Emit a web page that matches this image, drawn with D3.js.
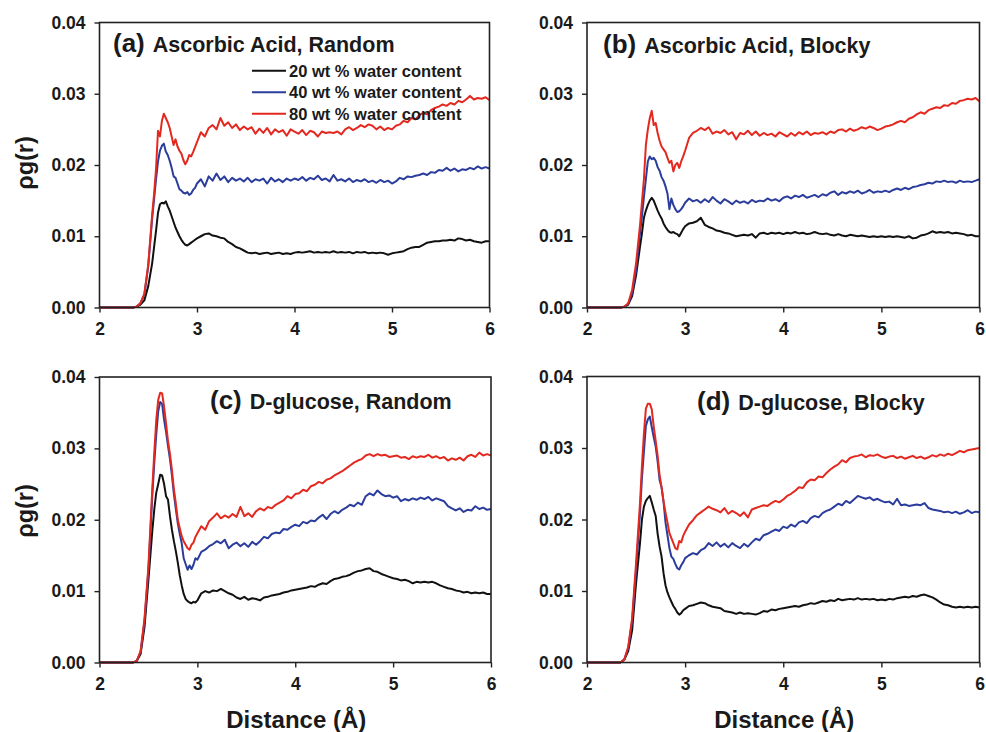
<!DOCTYPE html>
<html>
<head>
<meta charset="utf-8">
<script src="https://cdn.jsdelivr.net/npm/d3@7"></script>
<style>
  body { margin: 0; background: #fff; }
  svg text { font-family: "Liberation Sans", Arial, sans-serif; font-weight: bold; fill: #1a1a1a; }
</style>
</head>
<body>
<svg id="chart" width="986" height="732"></svg>
<script>
// Sampled distances r (Å), shared by every curve
const distance = [
  2.00, 2.34, 2.38, 2.42, 2.46, 2.50, 2.54, 2.56, 2.58, 2.60,
  2.62, 2.64, 2.66, 2.68, 2.70, 2.72, 2.74, 2.76, 2.78, 2.80,
  2.82, 2.84, 2.86, 2.88, 2.90, 2.92, 2.94, 2.96, 2.98, 3.00,
  3.04, 3.08, 3.12, 3.16, 3.20, 3.24, 3.28, 3.32, 3.36, 3.40, 3.44, 3.48, 3.52, 3.56, 3.60, 3.64, 3.68, 3.72, 3.76, 3.80, 3.84, 3.88, 3.92, 3.96, 4.00,
  4.04, 4.08, 4.12, 4.16, 4.20, 4.24, 4.28, 4.32, 4.36, 4.40, 4.44, 4.48, 4.52, 4.56, 4.60, 4.64, 4.68, 4.72, 4.76, 4.80, 4.84, 4.88, 4.92, 4.96, 5.00,
  5.04, 5.08, 5.12, 5.16, 5.20, 5.24, 5.28, 5.32, 5.36, 5.40, 5.44, 5.48, 5.52, 5.56, 5.60, 5.64, 5.68, 5.72, 5.76, 5.80, 5.84, 5.88, 5.92, 5.96, 6.00
];

// (a) Ascorbic acid, random
const ascorbicRandom20 = [
  0, 0, 0.0001, 0.0004, 0.0010, 0.0030, 0.0062, 0.0085, 0.0108, 0.0133,
  0.0145, 0.0147, 0.0146, 0.0149, 0.0142, 0.0136, 0.0128, 0.0120, 0.0112, 0.0106,
  0.0100, 0.0095, 0.0091, 0.0088, 0.0087, 0.0089, 0.0091, 0.0093, 0.0095, 0.0097,
  0.0100, 0.0103, 0.0104, 0.0101, 0.0100, 0.0098, 0.0097, 0.0092, 0.0089, 0.0085, 0.0083, 0.0080, 0.0077, 0.0076, 0.0077, 0.0075, 0.0076, 0.0077, 0.0075, 0.0076, 0.0077, 0.0075, 0.0076, 0.0075, 0.0077,
  0.0078, 0.0077, 0.0078, 0.0079, 0.0077, 0.0078, 0.0077, 0.0078, 0.0077, 0.0079, 0.0077, 0.0078, 0.0077, 0.0078, 0.0076, 0.0078, 0.0077, 0.0078, 0.0076, 0.0077, 0.0076, 0.0077, 0.0076, 0.0074, 0.0076,
  0.0077, 0.0078, 0.0079, 0.0082, 0.0084, 0.0085, 0.0085, 0.0088, 0.0091, 0.0092, 0.0093, 0.0093, 0.0094, 0.0094, 0.0095, 0.0094, 0.0097, 0.0096, 0.0094, 0.0095, 0.0093, 0.0092, 0.0091, 0.0093, 0.0093
];
const ascorbicRandom40 = [
  0, 0, 0.0001, 0.0006, 0.0018, 0.0058, 0.0125, 0.0152, 0.0180, 0.0205,
  0.0220, 0.0227, 0.0230, 0.0219, 0.0214, 0.0206, 0.0196, 0.0184, 0.0182, 0.0174,
  0.0166, 0.0164, 0.0161, 0.0160, 0.0162, 0.0158, 0.0160, 0.0165, 0.0168, 0.0174,
  0.0180, 0.0170, 0.0184, 0.0178, 0.0188, 0.0179, 0.0184, 0.0176, 0.0182, 0.0178, 0.0181, 0.0177, 0.0182, 0.0176, 0.0180, 0.0178, 0.0181, 0.0174, 0.0182, 0.0177, 0.0180, 0.0176, 0.0181, 0.0178, 0.0181,
  0.0179, 0.0183, 0.0178, 0.0182, 0.0180, 0.0185, 0.0179, 0.0181, 0.0177, 0.0186, 0.0178, 0.0180, 0.0177, 0.0181, 0.0176, 0.0179, 0.0177, 0.0180, 0.0176, 0.0178, 0.0175, 0.0179, 0.0176, 0.0178, 0.0174,
  0.0177, 0.0182, 0.0180, 0.0184, 0.0183, 0.0185, 0.0186, 0.0188, 0.0186, 0.0190, 0.0189, 0.0193, 0.0192, 0.0196, 0.0192, 0.0195, 0.0191, 0.0194, 0.0193, 0.0196, 0.0194, 0.0198, 0.0195, 0.0197, 0.0195
];
const ascorbicRandom80 = [
  0, 0, 0.0001, 0.0006, 0.0019, 0.0060, 0.0130, 0.0160, 0.0195, 0.0248,
  0.0240, 0.0262, 0.0272, 0.0266, 0.0260, 0.0252, 0.0240, 0.0228, 0.0236, 0.0226,
  0.0220, 0.0216, 0.0207, 0.0201, 0.0206, 0.0214, 0.0212, 0.0218, 0.0225, 0.0232,
  0.0246, 0.0240, 0.0252, 0.0256, 0.0250, 0.0266, 0.0255, 0.0260, 0.0252, 0.0257, 0.0249, 0.0254, 0.0250, 0.0253, 0.0244, 0.0251, 0.0245, 0.0252, 0.0243, 0.0250, 0.0246, 0.0249, 0.0241, 0.0250, 0.0247,
  0.0244, 0.0249, 0.0242, 0.0248, 0.0246, 0.0240, 0.0247, 0.0245, 0.0246, 0.0245, 0.0247, 0.0243, 0.0250, 0.0253, 0.0249, 0.0252, 0.0256, 0.0253, 0.0257, 0.0255, 0.0250, 0.0254, 0.0249, 0.0252, 0.0250,
  0.0255, 0.0257, 0.0262, 0.0260, 0.0266, 0.0264, 0.0270, 0.0273, 0.0271, 0.0277, 0.0280, 0.0282, 0.0285, 0.0283, 0.0287, 0.0285, 0.0290, 0.0288, 0.0292, 0.0297, 0.0292, 0.0294, 0.0293, 0.0295, 0.0291
];

// (b) Ascorbic acid, blocky
const ascorbicBlocky20 = [
  0, 0, 0.0001, 0.0004, 0.0016, 0.0045, 0.0085, 0.0104, 0.0126, 0.0136,
  0.0144, 0.0150, 0.0154, 0.0150, 0.0143, 0.0136, 0.0130, 0.0125, 0.0118, 0.0113,
  0.0109, 0.0106, 0.0105, 0.0106, 0.0104, 0.0103, 0.0100, 0.0105, 0.0110, 0.0114,
  0.0118, 0.0119, 0.0121, 0.0126, 0.0116, 0.0113, 0.0111, 0.0108, 0.0107, 0.0105, 0.0104, 0.0102, 0.0100, 0.0101, 0.0102, 0.0101, 0.0103, 0.0098, 0.0104, 0.0105, 0.0103, 0.0105, 0.0104, 0.0105, 0.0103,
  0.0105, 0.0104, 0.0106, 0.0104, 0.0105, 0.0103, 0.0104, 0.0106, 0.0104, 0.0103, 0.0104, 0.0102, 0.0101, 0.0103, 0.0101, 0.0100, 0.0102, 0.0101, 0.0100, 0.0101, 0.0100, 0.0099, 0.0100, 0.0099, 0.0100,
  0.0099, 0.0100, 0.0099, 0.0100, 0.0099, 0.0098, 0.0100, 0.0097, 0.0098, 0.0101, 0.0102, 0.0104, 0.0107, 0.0105, 0.0106, 0.0105, 0.0106, 0.0104, 0.0105, 0.0104, 0.0103, 0.0101, 0.0102, 0.0100, 0.0100
];
const ascorbicBlocky40 = [
  0, 0, 0.0001, 0.0005, 0.0020, 0.0052, 0.0104, 0.0128, 0.0155, 0.0180,
  0.0205, 0.0212, 0.0208, 0.0210, 0.0206, 0.0197, 0.0192, 0.0183, 0.0178, 0.0170,
  0.0160, 0.0138, 0.0153, 0.0144, 0.0138, 0.0134, 0.0135, 0.0138, 0.0142, 0.0147,
  0.0153, 0.0149, 0.0151, 0.0147, 0.0152, 0.0148, 0.0155, 0.0150, 0.0146, 0.0152, 0.0149, 0.0145, 0.0150, 0.0147, 0.0149, 0.0146, 0.0151, 0.0148, 0.0150, 0.0149, 0.0153, 0.0150, 0.0152, 0.0149, 0.0154,
  0.0156, 0.0153, 0.0157, 0.0155, 0.0158, 0.0154, 0.0156, 0.0158, 0.0155, 0.0159, 0.0157, 0.0161, 0.0163, 0.0158, 0.0162, 0.0160, 0.0163, 0.0161, 0.0164, 0.0160, 0.0162, 0.0165, 0.0161, 0.0163, 0.0162,
  0.0164, 0.0162, 0.0165, 0.0167, 0.0165, 0.0168, 0.0166, 0.0169, 0.0170, 0.0172, 0.0173, 0.0175, 0.0174, 0.0177, 0.0176, 0.0178, 0.0176, 0.0177, 0.0175, 0.0178, 0.0176, 0.0177, 0.0176, 0.0178, 0.0180
];
const ascorbicBlocky80 = [
  0, 0, 0.0001, 0.0006, 0.0025, 0.0062, 0.0115, 0.0148, 0.0180, 0.0228,
  0.0250, 0.0266, 0.0276, 0.0256, 0.0259, 0.0245, 0.0234, 0.0226, 0.0222, 0.0218,
  0.0210, 0.0203, 0.0206, 0.0191, 0.0200, 0.0203, 0.0196, 0.0205, 0.0212, 0.0220,
  0.0238, 0.0245, 0.0248, 0.0252, 0.0249, 0.0253, 0.0244, 0.0247, 0.0245, 0.0249, 0.0243, 0.0246, 0.0236, 0.0245, 0.0243, 0.0248, 0.0242, 0.0247, 0.0241, 0.0245, 0.0242, 0.0244, 0.0240, 0.0246, 0.0243,
  0.0240, 0.0245, 0.0241, 0.0246, 0.0243, 0.0247, 0.0242, 0.0245, 0.0244, 0.0246, 0.0243, 0.0247, 0.0245, 0.0249, 0.0250, 0.0247, 0.0251, 0.0248, 0.0250, 0.0253, 0.0251, 0.0254, 0.0252, 0.0249, 0.0251,
  0.0254, 0.0255, 0.0257, 0.0260, 0.0262, 0.0260, 0.0265, 0.0267, 0.0271, 0.0274, 0.0272, 0.0277, 0.0279, 0.0281, 0.0280, 0.0284, 0.0283, 0.0287, 0.0286, 0.0290, 0.0291, 0.0293, 0.0292, 0.0294, 0.0289
];

// (c) D-glucose, random
const glucoseRandom20 = [
  0, 0, 0.0002, 0.0012, 0.0050, 0.0116, 0.0185, 0.0215, 0.0238, 0.0250,
  0.0263, 0.0262, 0.0250, 0.0233, 0.0228, 0.0205, 0.0186, 0.0170, 0.0156, 0.0140,
  0.0122, 0.0108, 0.0096, 0.0089, 0.0086, 0.0084, 0.0083, 0.0085, 0.0084, 0.0087,
  0.0097, 0.0100, 0.0098, 0.0101, 0.0100, 0.0103, 0.0100, 0.0097, 0.0095, 0.0091, 0.0089, 0.0092, 0.0088, 0.0090, 0.0089, 0.0087, 0.0091, 0.0092, 0.0094, 0.0095, 0.0096, 0.0098, 0.0099, 0.0101, 0.0102,
  0.0103, 0.0104, 0.0105, 0.0107, 0.0106, 0.0109, 0.0111, 0.0110, 0.0114, 0.0117, 0.0118, 0.0120, 0.0121, 0.0123, 0.0126, 0.0128, 0.0129, 0.0131, 0.0132, 0.0128, 0.0127, 0.0124, 0.0122, 0.0120, 0.0118,
  0.0117, 0.0115, 0.0116, 0.0114, 0.0111, 0.0113, 0.0112, 0.0113, 0.0112, 0.0113, 0.0111, 0.0108, 0.0106, 0.0104, 0.0103, 0.0101, 0.0100, 0.0098, 0.0099, 0.0097, 0.0098, 0.0097, 0.0098, 0.0096, 0.0096
];
const glucoseRandom40 = [
  0, 0, 0.0002, 0.0015, 0.0058, 0.0130, 0.0235, 0.0280, 0.0320, 0.0352,
  0.0365, 0.0362, 0.0340, 0.0323, 0.0303, 0.0285, 0.0262, 0.0236, 0.0215, 0.0195,
  0.0180, 0.0167, 0.0146, 0.0138, 0.0130, 0.0136, 0.0131, 0.0137, 0.0146, 0.0144,
  0.0155, 0.0158, 0.0163, 0.0166, 0.0170, 0.0167, 0.0172, 0.0160, 0.0165, 0.0168, 0.0163, 0.0167, 0.0162, 0.0169, 0.0165, 0.0170, 0.0176, 0.0174, 0.0180, 0.0182, 0.0181, 0.0187, 0.0186, 0.0190, 0.0193,
  0.0191, 0.0197, 0.0195, 0.0199, 0.0198, 0.0203, 0.0207, 0.0201, 0.0208, 0.0212, 0.0209, 0.0214, 0.0217, 0.0221, 0.0219, 0.0224, 0.0221, 0.0233, 0.0237, 0.0234, 0.0241, 0.0236, 0.0233, 0.0234, 0.0231,
  0.0233, 0.0226, 0.0229, 0.0227, 0.0230, 0.0228, 0.0231, 0.0229, 0.0232, 0.0227, 0.0230, 0.0228, 0.0226, 0.0219, 0.0216, 0.0213, 0.0216, 0.0211, 0.0214, 0.0213, 0.0219, 0.0215, 0.0217, 0.0214, 0.0215
];
const glucoseRandom80 = [
  0, 0, 0.0002, 0.0016, 0.0062, 0.0135, 0.0245, 0.0295, 0.0340, 0.0368,
  0.0378, 0.0377, 0.0358, 0.0335, 0.0310, 0.0292, 0.0270, 0.0243, 0.0223, 0.0200,
  0.0188, 0.0177, 0.0170, 0.0165, 0.0160, 0.0158, 0.0165, 0.0168, 0.0176, 0.0181,
  0.0191, 0.0186, 0.0198, 0.0203, 0.0209, 0.0202, 0.0206, 0.0203, 0.0208, 0.0204, 0.0218, 0.0205, 0.0209, 0.0204, 0.0212, 0.0216, 0.0213, 0.0218, 0.0216, 0.0221, 0.0224, 0.0227, 0.0233, 0.0230, 0.0236,
  0.0237, 0.0242, 0.0240, 0.0247, 0.0249, 0.0253, 0.0251, 0.0256, 0.0258, 0.0262, 0.0265, 0.0268, 0.0272, 0.0276, 0.0280, 0.0283, 0.0285, 0.0290, 0.0292, 0.0289, 0.0292, 0.0290, 0.0291, 0.0288, 0.0289,
  0.0290, 0.0287, 0.0288, 0.0285, 0.0289, 0.0287, 0.0289, 0.0288, 0.0291, 0.0287, 0.0289, 0.0286, 0.0288, 0.0283, 0.0286, 0.0284, 0.0287, 0.0283, 0.0289, 0.0291, 0.0288, 0.0294, 0.0290, 0.0292, 0.0290
];

// (d) D-glucose, blocky
const glucoseBlocky20 = [
  0, 0, 0.0004, 0.0016, 0.0045, 0.0111, 0.0167, 0.0200, 0.0218, 0.0226,
  0.0230, 0.0233, 0.0224, 0.0214, 0.0205, 0.0180, 0.0162, 0.0148, 0.0125, 0.0108,
  0.0098, 0.0091, 0.0085, 0.0079, 0.0075, 0.0070, 0.0067, 0.0069, 0.0073, 0.0075,
  0.0079, 0.0080, 0.0082, 0.0084, 0.0083, 0.0080, 0.0078, 0.0077, 0.0076, 0.0072, 0.0071, 0.0070, 0.0068, 0.0070, 0.0068, 0.0069, 0.0068, 0.0067, 0.0069, 0.0072, 0.0071, 0.0074, 0.0073, 0.0075, 0.0076,
  0.0077, 0.0078, 0.0079, 0.0078, 0.0080, 0.0081, 0.0083, 0.0082, 0.0084, 0.0086, 0.0085, 0.0087, 0.0086, 0.0089, 0.0087, 0.0088, 0.0089, 0.0088, 0.0090, 0.0088, 0.0089, 0.0088, 0.0089, 0.0087, 0.0088,
  0.0087, 0.0089, 0.0088, 0.0090, 0.0091, 0.0092, 0.0091, 0.0093, 0.0092, 0.0094, 0.0095, 0.0093, 0.0091, 0.0088, 0.0084, 0.0081, 0.0080, 0.0078, 0.0077, 0.0078, 0.0077, 0.0078, 0.0077, 0.0078, 0.0077
];
const glucoseBlocky40 = [
  0, 0, 0.0004, 0.0020, 0.0058, 0.0130, 0.0209, 0.0258, 0.0295, 0.0331,
  0.0340, 0.0344, 0.0329, 0.0315, 0.0302, 0.0281, 0.0255, 0.0245, 0.0225, 0.0196,
  0.0178, 0.0160, 0.0148, 0.0145, 0.0138, 0.0132, 0.0130, 0.0136, 0.0140, 0.0146,
  0.0150, 0.0153, 0.0151, 0.0157, 0.0160, 0.0167, 0.0163, 0.0168, 0.0162, 0.0166, 0.0161, 0.0167, 0.0163, 0.0160, 0.0166, 0.0162, 0.0168, 0.0173, 0.0171, 0.0178, 0.0180, 0.0183, 0.0186, 0.0184, 0.0190,
  0.0188, 0.0193, 0.0190, 0.0196, 0.0198, 0.0195, 0.0202, 0.0205, 0.0203, 0.0209, 0.0212, 0.0214, 0.0218, 0.0222, 0.0220, 0.0226, 0.0223, 0.0228, 0.0233, 0.0231, 0.0229, 0.0231, 0.0227, 0.0229, 0.0226,
  0.0224, 0.0225, 0.0221, 0.0229, 0.0220, 0.0221, 0.0219, 0.0220, 0.0221, 0.0220, 0.0223, 0.0216, 0.0214, 0.0213, 0.0212, 0.0210, 0.0211, 0.0209, 0.0211, 0.0208, 0.0210, 0.0213, 0.0209, 0.0211, 0.0210
];
const glucoseBlocky80 = [
  0, 0, 0.0004, 0.0022, 0.0062, 0.0139, 0.0223, 0.0275, 0.0320, 0.0355,
  0.0362, 0.0362, 0.0354, 0.0330, 0.0310, 0.0289, 0.0262, 0.0245, 0.0225, 0.0210,
  0.0196, 0.0181, 0.0174, 0.0167, 0.0160, 0.0158, 0.0170, 0.0168, 0.0177, 0.0183,
  0.0193, 0.0199, 0.0206, 0.0210, 0.0214, 0.0218, 0.0215, 0.0213, 0.0210, 0.0216, 0.0208, 0.0212, 0.0209, 0.0205, 0.0210, 0.0203, 0.0214, 0.0216, 0.0218, 0.0220, 0.0219, 0.0223, 0.0226, 0.0224, 0.0228,
  0.0233, 0.0236, 0.0240, 0.0245, 0.0244, 0.0252, 0.0256, 0.0255, 0.0260, 0.0259, 0.0265, 0.0270, 0.0274, 0.0277, 0.0283, 0.0280, 0.0286, 0.0288, 0.0289, 0.0291, 0.0287, 0.0290, 0.0289, 0.0291, 0.0288,
  0.0286, 0.0288, 0.0289, 0.0286, 0.0288, 0.0285, 0.0287, 0.0289, 0.0286, 0.0288, 0.0285, 0.0287, 0.0290, 0.0288, 0.0291, 0.0289, 0.0292, 0.0290, 0.0293, 0.0296, 0.0294, 0.0297, 0.0298, 0.0299, 0.0300
];

const seriesLabels = ["20 wt % water content", "40 wt % water content", "80 wt % water content"];
const seriesColors = ["#111111", "#2b3d9c", "#e3291f"];
const xTicks = [2, 3, 4, 5, 6];
const yTicks = [0, 0.01, 0.02, 0.03, 0.04];

const panels = [
  { tag: "(a)", title: "Ascorbic Acid, Random", series: [ascorbicRandom20, ascorbicRandom40, ascorbicRandom80],
    box: { x0: 99.5, x1: 489.5, y0: 22.5, y1: 307.5 }, titleAt: [113, 52], legend: true, yTitleY: 163, xTitle: false },
  { tag: "(b)", title: "Ascorbic Acid, Blocky", series: [ascorbicBlocky20, ascorbicBlocky40, ascorbicBlocky80],
    box: { x0: 587, x1: 979.5, y0: 22.5, y1: 307.5 }, titleAt: [603, 53], legend: false, yTitleY: null, xTitle: false },
  { tag: "(c)", title: "D-glucose, Random", series: [glucoseRandom20, glucoseRandom40, glucoseRandom80],
    box: { x0: 99.5, x1: 491, y0: 377, y1: 662.5 }, titleAt: [210, 409], legend: false, yTitleY: 511, xTitle: true },
  { tag: "(d)", title: "D-glucose, Blocky", series: [glucoseBlocky20, glucoseBlocky40, glucoseBlocky80],
    box: { x0: 587, x1: 979.5, y0: 376.5, y1: 662.5 }, titleAt: [697, 410], legend: false, yTitleY: null, xTitle: true }
];

const svg = d3.select("#chart");
const fmt = d3.format(".2f");

panels.forEach(p => {
  const b = p.box;
  const x = d3.scaleLinear().domain([2, 6]).range([b.x0, b.x1]);
  const y = d3.scaleLinear().domain([0, 0.04]).range([b.y1, b.y0]);
  const g = svg.append("g");

  // axes (ticks and labels only; the frame is drawn separately)
  const yAxis = g.append("g").attr("transform", `translate(${b.x0},0)`)
    .call(d3.axisLeft(y).tickValues(yTicks).tickFormat(fmt).tickSize(5).tickPadding(9));
  const xAxis = g.append("g").attr("transform", `translate(0,${b.y1})`)
    .call(d3.axisBottom(x).tickValues(xTicks).tickFormat(d3.format("d")).tickSize(5).tickPadding(10));
  [yAxis, xAxis].forEach(a => {
    a.select(".domain").remove();
    a.selectAll(".tick line").attr("stroke", "#222").attr("stroke-width", 1.4);
    a.selectAll(".tick text").style("font-size", "17.5px").attr("fill", "#1a1a1a");
  });

  // curves
  const line = d3.line()
    .x((d, i) => x(distance[i]))
    .y(d => y(d))
    .curve(d3.curveLinear);
  p.series.forEach((s, k) => {
    g.append("path")
      .datum(s)
      .attr("d", line)
      .attr("fill", "none")
      .attr("stroke", seriesColors[k])
      .attr("stroke-width", 2)
      .attr("stroke-linejoin", "round");
  });

  // frame
  g.append("rect")
    .attr("x", b.x0).attr("y", b.y0)
    .attr("width", b.x1 - b.x0).attr("height", b.y1 - b.y0)
    .attr("fill", "none").attr("stroke", "#222").attr("stroke-width", 1.6);

  // panel title
  const t = g.append("text").attr("x", p.titleAt[0]).attr("y", p.titleAt[1]);
  t.append("tspan").style("font-size", "26px").text(p.tag);
  t.append("tspan").attr("dx", 8).style("font-size", "21.5px").text(p.title);

  // legend
  if (p.legend) {
    const lx0 = 252, lx1 = 286, rows = [70.7, 92.2, 113.7];
    seriesLabels.forEach((lab, k) => {
      g.append("line")
        .attr("x1", lx0).attr("x2", lx1).attr("y1", rows[k]).attr("y2", rows[k])
        .attr("stroke", seriesColors[k]).attr("stroke-width", 2);
      g.append("text")
        .attr("x", 289).attr("y", rows[k] + 6)
        .style("font-size", "16.5px")
        .text(lab);
    });
  }

  // y-axis title
  if (p.yTitleY !== null) {
    g.append("text")
      .attr("transform", `translate(33,${p.yTitleY}) rotate(-90)`)
      .attr("text-anchor", "middle")
      .style("font-size", "23.5px")
      .text("ρg(r)");
  }

  // x-axis title
  if (p.xTitle) {
    g.append("text")
      .attr("x", (b.x0 + b.x1) / 2 + 1)
      .attr("y", 728)
      .attr("text-anchor", "middle")
      .style("font-size", "24px")
      .text("Distance (Å)");
  }
});
</script>
</body>
</html>
